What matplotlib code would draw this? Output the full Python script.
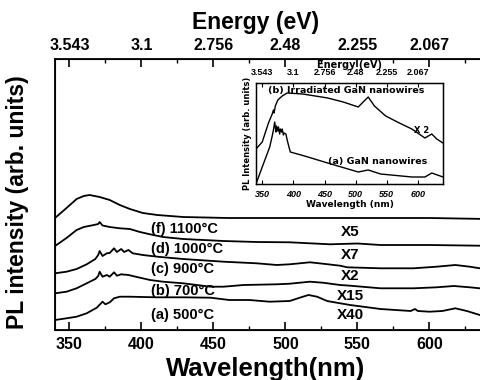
import matplotlib
matplotlib.use("Agg")
import matplotlib.pyplot as plt
import numpy as np

plt.rcParams['font.family'] = ['Liberation Sans', 'DejaVu Sans']
plt.rcParams['font.weight'] = 'bold'

# ---------------- data (main panel, offset stacked spectra) ----------------
wl_top = [340, 348, 355, 360, 364, 371, 378, 385, 392, 401, 411, 429, 460, 500, 550, 600, 640]
int_top = [112, 122, 131, 134, 135, 133, 130, 125, 121, 117, 115, 113, 112, 112, 112, 112, 111]

wl_f = [340, 348, 355, 360, 367, 370, 371, 373, 378, 385, 392, 399, 406, 415, 429, 457, 480, 503, 531, 550, 566, 600, 635, 640]
int_f = [84, 92, 100, 103, 105, 106, 108, 104.5, 103, 101.7, 101, 98, 95.7, 93, 91, 89, 88, 87.7, 85.7, 86.5, 85, 85, 84.3, 84]

wl_d = [340, 348, 355, 362, 368, 370, 371, 373, 376, 378, 381, 383, 386, 388, 391, 394, 401, 411, 429, 457, 480, 494, 503, 517, 526, 538, 543, 566, 589, 605, 618, 628, 635, 640]
int_d = [56.7, 58.3, 61, 65.7, 71, 75, 79, 74, 76.7, 77, 81.7, 78, 81, 78, 80, 76.7, 75, 73.3, 71, 68.3, 66.7, 65, 65.7, 67.7, 66.3, 64.3, 62.7, 61.7, 61.7, 63.3, 65, 63.3, 61.7, 61]

wl_c = [340, 348, 355, 362, 368, 370, 371, 373, 376, 378, 381, 383, 386, 391, 396, 406, 415, 429, 448, 457, 471, 494, 503, 517, 526, 538, 545, 566, 589, 605, 617, 628, 635, 640]
int_c = [36.7, 38.3, 41.7, 46.7, 51, 54, 58.3, 53.3, 55, 53.3, 57.7, 54.3, 55.7, 55, 53.3, 50, 48.3, 46.7, 43.3, 43.3, 45, 45.7, 46.3, 48.3, 47.3, 45, 44.3, 41.7, 41.7, 42.7, 44, 42.7, 41.7, 41]

wl_a = [340, 348, 355, 362, 369, 373, 375, 378, 381, 385, 392, 410, 429, 448, 461, 475, 489, 503, 510, 516, 522, 529, 538, 545, 566, 587, 590, 592, 600, 609, 618, 626, 635, 640]
int_a = [10, 11.7, 13.3, 16.7, 22.3, 28.3, 25.7, 27.7, 31.7, 33.3, 33.3, 32.7, 32.7, 32.3, 30, 30, 28.3, 29, 32.3, 35, 33.3, 29, 26.7, 25, 21, 19, 21, 19, 18.3, 19, 21.7, 19, 15, 14]

sample_labels = ["(f) 1100°C", "(d) 1000°C", "(c) 900°C", "(b) 700°C", "(a) 500°C"]
label_y = [101, 81, 61, 39, 15]
factor_labels = ["X5", "X7", "X2", "X15", "X40"]
factor_y = [98, 75, 54, 34, 15]

major_ticks = [350, 400, 450, 500, 550, 600]
energy_labels = ["3.543", "3.1", "2.756", "2.48", "2.255", "2.067"]

# ---------------- data (inset) ----------------
in_wl_b = [340, 350, 360, 366, 368, 369, 371, 375, 382, 390, 415, 455, 480, 504, 512, 520, 530, 548, 570, 590, 611, 622, 630, 640]
in_int_b = [35, 42, 61, 70, 74, 71, 78, 84, 88, 91, 90, 86, 82, 77, 82, 87, 78, 68, 61, 55, 46, 50, 45, 41]
in_wl_a = [340, 350, 356, 362, 366, 368, 370, 372, 373, 375, 376, 378, 379, 381, 382, 384, 385, 388, 390, 395, 418, 455, 504, 520, 540, 590, 611, 622, 640]
in_int_a = [0, 17, 27, 37, 48, 54, 62, 52, 58, 53, 57, 50, 55, 52, 55, 49, 51, 50, 44, 32, 28, 21, 12, 14, 10, 7, 7, 11, 7]

# ---------------- figure ----------------
W, H = 481, 380
fig = plt.figure(figsize=(W / 100, H / 100), dpi=100)

def px(l, t, r, b):
    return [l / W, 1 - b / H, (r - l) / W, (b - t) / H]

ax = fig.add_axes(px(55, 59, 487, 330))
lw = 1.3
for xs, ys in [(wl_top, int_top), (wl_f, int_f), (wl_d, int_d), (wl_c, int_c), (wl_a, int_a)]:
    ax.plot(xs, ys, color='black', lw=lw)
ax.set_xlim(340, 640)
ax.set_ylim(0, 271)
ax.set_yticks([])
ax.set_xticks(major_ticks)
ax.set_xticks(np.arange(350, 640, 25), minor=True)
ax.tick_params(axis='x', which='major', direction='in', length=6, width=1.2, labelsize=11.5, pad=5)
ax.tick_params(axis='x', which='minor', direction='in', length=3, width=1.0)
for s in ax.spines.values():
    s.set_linewidth(1.3)
ax.spines['right'].set_visible(False)
for lab in ax.get_xticklabels():
    lab.set_fontweight('bold')

for t, y in zip(sample_labels, label_y):
    ax.text(407, y, t, fontsize=10.5, fontweight='bold', va='center', ha='left')
for t, y in zip(factor_labels, factor_y):
    ax.text(545, y, t, fontsize=11, fontweight='bold', va='center', ha='center')

axt = ax.twiny()
axt.set_xlim(340, 640)
axt.set_xticks(major_ticks)
axt.set_xticklabels(energy_labels)
axt.set_xticks(np.arange(350, 640, 25), minor=True)
axt.tick_params(axis='x', which='major', direction='in', length=6, width=1.2, labelsize=11.5, pad=4)
axt.tick_params(axis='x', which='minor', direction='in', length=3, width=1.0)
axt.spines['right'].set_visible(False)
for lab in axt.get_xticklabels():
    lab.set_fontweight('bold')

fig.text(266 / W, 1 - 369 / H, "Wavelength(nm)", fontsize=18.5, fontweight='bold', ha='center', va='center')
fig.text(256 / W, 1 - 22 / H, "Energy (eV)", fontsize=16.5, fontweight='bold', ha='center', va='center')
fig.text(18 / W, 1 - 202 / H, "PL intensity (arb. units)", fontsize=16.5, fontweight='bold', ha='center', va='center', rotation=90)

# ---------------- inset ----------------
ifont = ['DejaVu Sans']
ia = fig.add_axes(px(256, 83, 443, 184))
ia.plot(in_wl_b, in_int_b, color='black', lw=1.0)
ia.plot(in_wl_a, in_int_a, color='black', lw=1.0)
ia.set_xlim(340, 640)
ia.set_ylim(0, 101)
ia.set_yticks([])
ia.set_xticks(major_ticks)
ia.tick_params(axis='x', direction='in', length=3, width=0.8, labelsize=6.5, pad=4.5)
for lab in ia.get_xticklabels():
    lab.set_fontweight('bold'); lab.set_fontstyle('italic')
for s in ia.spines.values():
    s.set_linewidth(1.0)
ia.text(0.065, 0.93, "(b) Irradiated GaN nanowires", transform=ia.transAxes, fontsize=6.8, fontweight='bold', va='center', ha='left', family=ifont)
ia.text(0.385, 0.22, "(a) GaN nanowires", transform=ia.transAxes, fontsize=6.8, fontweight='bold', va='center', ha='left', family=ifont)
ia.text(0.885, 0.53, "X 2", transform=ia.transAxes, fontsize=6, fontweight='bold', va='center', ha='center', family=ifont)
ia.set_xlabel("Wavelength (nm)", fontsize=6.5, fontweight='bold', labelpad=0.5, family=ifont)
ia.set_ylabel("PL Intensity (arb. units)", fontsize=6, fontweight='bold', labelpad=3, family=ifont)

iat = ia.twiny()
iat.set_xlim(340, 640)
iat.set_xticks(major_ticks)
iat.set_xticklabels(energy_labels)
iat.tick_params(axis='x', direction='in', length=3, width=0.8, labelsize=6.5, pad=4)
for lab in iat.get_xticklabels():
    lab.set_fontweight('bold')
iat.set_xlabel("Energy (eV)", fontsize=7, fontweight='bold', labelpad=0.5, family=ifont)

fig.savefig("out.png", dpi=100)
